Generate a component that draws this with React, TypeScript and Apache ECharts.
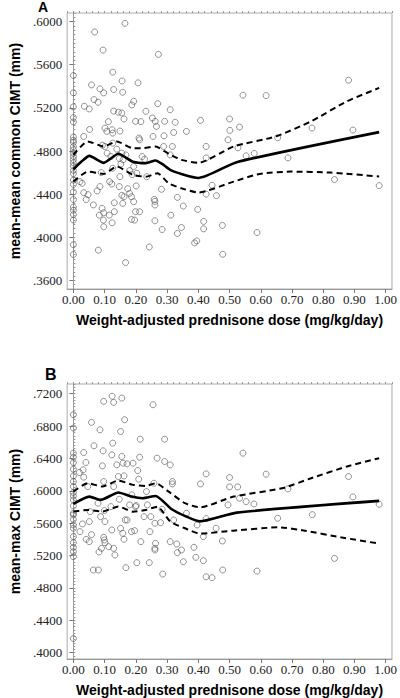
import React, { useEffect, useRef } from "react";
import * as echarts from "echarts";

const X_TICKS = [0, 0.1, 0.2, 0.3, 0.4, 0.5, 0.6, 0.7, 0.8, 0.9, 1.0];
const A_Y_TICKS = [0.36, 0.4, 0.44, 0.48, 0.52, 0.56, 0.6];
const B_Y_TICKS = [0.4, 0.44, 0.48, 0.52, 0.56, 0.6, 0.64, 0.68, 0.72];

const X_NAME = "Weight-adjusted prednisone dose (mg/kg/day)";
const A_Y_NAME = "mean-mean common CIMT (mm)";
const B_Y_NAME = "mean-max CIMT (mm)";

// Panel A: patients with zero dose
const A_ZERO_Y = [0.550, 0.534, 0.521, 0.511, 0.507, 0.493, 0.490, 0.488, 0.484, 0.481, 0.478, 0.475, 0.472, 0.469, 0.466, 0.462, 0.459, 0.453, 0.449, 0.442, 0.435, 0.428, 0.425, 0.421, 0.416, 0.393, 0.384];
const A_POINTS: number[][] = [
  [0.033, 0.4935], [0.021, 0.4516], [0.028, 0.450], [0.035, 0.5215], [0.051, 0.519], [0.052, 0.500],
  [0.033, 0.4413], [0.041, 0.435], [0.047, 0.4395], [0.058, 0.5413], [0.066, 0.5277], [0.079, 0.5252],
  [0.068, 0.5904], [0.085, 0.5376], [0.097, 0.5339], [0.095, 0.5736], [0.080, 0.388], [0.064, 0.430],
  [0.076, 0.443], [0.085, 0.447], [0.089, 0.460], [0.083, 0.4205], [0.092, 0.4268], [0.096, 0.4159],
  [0.097, 0.4097], [0.097, 0.4227], [0.093, 0.4854], [0.101, 0.4842], [0.101, 0.5013], [0.107, 0.4982],
  [0.112, 0.5072], [0.126, 0.5531], [0.129, 0.537], [0.124, 0.4997], [0.126, 0.4966], [0.126, 0.4873],
  [0.108, 0.478], [0.120, 0.4749], [0.126, 0.464], [0.123, 0.4494], [0.116, 0.4516], [0.131, 0.432],
  [0.131, 0.4237], [0.115, 0.4205], [0.124, 0.4134], [0.129, 0.517], [0.144, 0.5159], [0.155, 0.5153],
  [0.158, 0.5345], [0.156, 0.545], [0.162, 0.5097], [0.149, 0.4985], [0.139, 0.4817], [0.147, 0.473],
  [0.155, 0.478], [0.159, 0.4718], [0.168, 0.4764], [0.152, 0.468], [0.149, 0.4562], [0.147, 0.447],
  [0.155, 0.4389], [0.162, 0.4376], [0.158, 0.4314], [0.174, 0.445], [0.180, 0.4407], [0.180, 0.4618],
  [0.188, 0.4581], [0.193, 0.4656], [0.186, 0.4376], [0.193, 0.433], [0.186, 0.4165], [0.196, 0.4159],
  [0.199, 0.4237], [0.212, 0.4237], [0.165, 0.5984], [0.167, 0.3765], [0.187, 0.5227], [0.193, 0.5261],
  [0.199, 0.5075], [0.207, 0.5432], [0.216, 0.5072], [0.210, 0.4920], [0.212, 0.4904], [0.201, 0.4476],
  [0.203, 0.4594], [0.220, 0.4749], [0.228, 0.4724], [0.232, 0.5168], [0.235, 0.4562], [0.253, 0.5106],
  [0.255, 0.4935], [0.243, 0.391], [0.262, 0.5075], [0.266, 0.5028], [0.270, 0.5239], [0.272, 0.5696],
  [0.259, 0.4351], [0.261, 0.4333], [0.261, 0.4299], [0.261, 0.4153], [0.282, 0.4445], [0.284, 0.4072],
  [0.292, 0.5075], [0.290, 0.4941], [0.289, 0.4842], [0.310, 0.5183], [0.317, 0.4842], [0.321, 0.4972],
  [0.326, 0.5066], [0.310, 0.4764], [0.312, 0.4205], [0.333, 0.437], [0.333, 0.4035], [0.346, 0.409],
  [0.352, 0.4289], [0.362, 0.4982], [0.398, 0.4258], [0.388, 0.3948], [0.395, 0.3966], [0.407, 0.5084],
  [0.425, 0.4842], [0.425, 0.4736], [0.425, 0.440], [0.417, 0.4147], [0.417, 0.4078], [0.444, 0.4482],
  [0.458, 0.4386], [0.477, 0.411], [0.478, 0.3842], [0.495, 0.4904], [0.500, 0.5097], [0.501, 0.4991],
  [0.527, 0.483], [0.532, 0.5022], [0.543, 0.5317], [0.553, 0.4755], [0.579, 0.4777], [0.588, 0.4044],
  [0.617, 0.5314], [0.654, 0.4923], [0.687, 0.4736], [0.764, 0.5013], [0.836, 0.4535], [0.881, 0.5457],
  [0.895, 0.4994], [0.979, 0.4479],
];
const A_FIT: number[][] = [[0, 0.463], [0.025, 0.470], [0.051, 0.4755], [0.097, 0.469], [0.144, 0.4774], [0.191, 0.470], [0.232, 0.4687], [0.263, 0.4712], [0.284, 0.468], [0.310, 0.4625], [0.346, 0.4587], [0.400, 0.4550], [0.523, 0.4696], [0.979, 0.4975]];
const A_UPPER: number[][] = [[0, 0.4764], [0.046, 0.4889], [0.097, 0.4842], [0.139, 0.4889], [0.191, 0.4826], [0.222, 0.4826], [0.263, 0.4842], [0.305, 0.4774], [0.346, 0.4718], [0.400, 0.4690], [0.513, 0.4842], [0.648, 0.4935], [0.761, 0.5075], [0.876, 0.5261], [0.979, 0.5385]];
const A_LOWER: number[][] = [[0, 0.4516], [0.046, 0.4609], [0.097, 0.4587], [0.139, 0.4656], [0.191, 0.4578], [0.232, 0.4562], [0.269, 0.4594], [0.305, 0.4500], [0.346, 0.4454], [0.400, 0.4415], [0.513, 0.4516], [0.596, 0.4587], [0.699, 0.4609], [0.824, 0.4600], [0.979, 0.4563]];

// Panel B
const B_ZERO_Y = [0.694, 0.6775, 0.6465, 0.6415, 0.635, 0.6267, 0.6184, 0.6114, 0.6052, 0.5978, 0.5936, 0.5887, 0.5813, 0.5722, 0.5701, 0.5647, 0.5577, 0.5536, 0.5433, 0.5358, 0.5301, 0.5247, 0.5185, 0.4173];
const B_POINTS: number[][] = [
  [0.019, 0.6226], [0.033, 0.6473], [0.031, 0.6259], [0.033, 0.6168], [0.021, 0.5495], [0.029, 0.559],
  [0.041, 0.54], [0.051, 0.5371], [0.058, 0.5458], [0.058, 0.6845], [0.040, 0.635], [0.046, 0.6052],
  [0.054, 0.5742], [0.051, 0.5619], [0.064, 0.502], [0.080, 0.502], [0.066, 0.6556], [0.085, 0.6754],
  [0.079, 0.5846], [0.087, 0.568], [0.082, 0.5243], [0.090, 0.5288], [0.095, 0.6494], [0.093, 0.6308],
  [0.097, 0.6114], [0.097, 0.7105], [0.099, 0.5755], [0.101, 0.5619], [0.097, 0.5425], [0.099, 0.5392],
  [0.101, 0.5358], [0.113, 0.5309], [0.124, 0.7169], [0.129, 0.7092], [0.126, 0.6589], [0.123, 0.6444],
  [0.129, 0.6052], [0.120, 0.5804], [0.123, 0.5515], [0.129, 0.5288], [0.133, 0.5206], [0.139, 0.632],
  [0.144, 0.6176], [0.147, 0.5895], [0.151, 0.6733], [0.155, 0.7146], [0.164, 0.6878], [0.155, 0.6424],
  [0.159, 0.6341], [0.162, 0.6184], [0.151, 0.5536], [0.158, 0.5474], [0.162, 0.54], [0.166, 0.5639],
  [0.168, 0.5049], [0.172, 0.6333], [0.172, 0.5639], [0.180, 0.5825], [0.187, 0.5949], [0.186, 0.5495],
  [0.191, 0.6341], [0.196, 0.5507], [0.201, 0.5817], [0.203, 0.5111], [0.199, 0.5804], [0.206, 0.625],
  [0.212, 0.6415], [0.209, 0.6143], [0.214, 0.6638], [0.216, 0.5371], [0.226, 0.568], [0.234, 0.599],
  [0.237, 0.5825], [0.243, 0.5111], [0.245, 0.5495], [0.248, 0.568], [0.255, 0.7064], [0.258, 0.6093],
  [0.261, 0.5598], [0.263, 0.535], [0.261, 0.5288], [0.261, 0.5268], [0.268, 0.6403], [0.279, 0.5606],
  [0.284, 0.5771], [0.286, 0.497], [0.292, 0.6638], [0.292, 0.6362], [0.310, 0.632], [0.310, 0.5371],
  [0.317, 0.6114], [0.317, 0.6085], [0.321, 0.5639], [0.331, 0.5342], [0.333, 0.5235], [0.346, 0.5268],
  [0.352, 0.5123], [0.362, 0.5722], [0.386, 0.5301], [0.392, 0.5177], [0.396, 0.5577], [0.407, 0.6085],
  [0.425, 0.6209], [0.425, 0.5656], [0.416, 0.5433], [0.416, 0.5136], [0.425, 0.4937], [0.444, 0.4925],
  [0.457, 0.5536], [0.477, 0.5379], [0.478, 0.502], [0.495, 0.5825], [0.500, 0.6164], [0.500, 0.6048],
  [0.526, 0.6048], [0.532, 0.5908], [0.543, 0.6465], [0.553, 0.5866], [0.578, 0.5837], [0.588, 0.5007],
  [0.617, 0.6205], [0.654, 0.566], [0.687, 0.6023], [0.765, 0.5705], [0.836, 0.5164], [0.881, 0.6176],
  [0.895, 0.5924], [0.979, 0.5833],
];
const B_FIT: number[][] = [[0, 0.5837], [0.051, 0.5928], [0.087, 0.5887], [0.144, 0.5978], [0.186, 0.5928], [0.222, 0.5908], [0.263, 0.5936], [0.315, 0.5771], [0.362, 0.568], [0.405, 0.5622], [0.523, 0.573], [0.979, 0.5875]];
const B_UPPER: number[][] = [[0, 0.599], [0.046, 0.6093], [0.092, 0.6052], [0.144, 0.6126], [0.191, 0.6073], [0.232, 0.606], [0.263, 0.6093], [0.305, 0.599], [0.357, 0.5846], [0.405, 0.5795], [0.513, 0.5928], [0.668, 0.6031], [0.761, 0.6155], [0.876, 0.63], [0.979, 0.6403]];
const B_LOWER: number[][] = [[0, 0.5742], [0.046, 0.5763], [0.092, 0.5742], [0.144, 0.5804], [0.191, 0.5742], [0.232, 0.5763], [0.269, 0.5804], [0.310, 0.5619], [0.357, 0.5536], [0.405, 0.547], [0.513, 0.5507], [0.658, 0.5548], [0.741, 0.5507], [0.855, 0.5425], [0.974, 0.535]];

const SERIF = "Liberation Serif, Times New Roman, serif";
const SANS = "Liberation Sans, Arial, sans-serif";

export default function App() {
  const ref = useRef<HTMLDivElement>(null);

  useEffect(() => {
    if (!ref.current) return;
    const chart = echarts.init(ref.current, undefined, { renderer: "svg" });

    const grids = [
      { left: 62, top: 13, width: 333, height: 276 },
      { left: 62, top: 384, width: 333, height: 276 },
    ];
    const yCfg = [
      { min: 0.352, max: 0.608, ticks: A_Y_TICKS, name: A_Y_NAME },
      { min: 0.392, max: 0.732, ticks: B_Y_TICKS, name: B_Y_NAME },
    ];

    const xAxis: any[] = [];
    const yAxis: any[] = [];
    grids.forEach((_, g) => {
      xAxis.push({
        type: "value",
        gridIndex: g,
        min: -0.02,
        max: 1.02,
        name: X_NAME,
        nameLocation: "middle",
        nameGap: 24,
        nameTextStyle: { fontFamily: SANS, fontWeight: "bold", fontSize: 14, color: "#000" },
        axisLine: { show: true, lineStyle: { color: "#999", width: 1 } },
        axisTick: { show: true, customValues: X_TICKS, length: 4, lineStyle: { color: "#777" } },
        axisLabel: {
          customValues: X_TICKS,
          formatter: (v: number) => v.toFixed(2),
          fontFamily: SERIF,
          fontSize: 13,
          color: "#222",
          margin: 4,
        },
        splitLine: { show: false },
      });
      xAxis.push({
        type: "value",
        gridIndex: g,
        min: -0.02,
        max: 1.02,
        interval: 0.02,
        axisLine: { show: false },
        axisTick: { show: true, length: 2, lineStyle: { color: "#999" } },
        axisLabel: { show: false },
        splitLine: { show: false },
      });
      const c = yCfg[g];
      yAxis.push({
        type: "value",
        gridIndex: g,
        min: c.min,
        max: c.max,
        name: c.name,
        nameLocation: "middle",
        nameGap: 40,
        nameTextStyle: { fontFamily: SANS, fontWeight: "bold", fontSize: 14, color: "#000" },
        axisLine: { show: true, lineStyle: { color: "#999", width: 1 } },
        axisTick: { show: true, customValues: c.ticks, length: 4, lineStyle: { color: "#777" } },
        axisLabel: {
          customValues: c.ticks,
          formatter: (v: number) => v.toFixed(4).replace(/^0/, ""),
          fontFamily: SERIF,
          fontSize: 13,
          color: "#222",
          margin: 5,
        },
        splitLine: { show: false },
      });
      yAxis.push({
        type: "value",
        gridIndex: g,
        min: c.min,
        max: c.max,
        interval: 0.004,
        axisLine: { show: false },
        axisTick: { show: true, length: 2, lineStyle: { color: "#999" } },
        axisLabel: { show: false },
        splitLine: { show: false },
      });
    });

    const scatterStyle = {
      symbol: "circle",
      symbolSize: 6,
      itemStyle: { color: "rgba(0,0,0,0)", borderColor: "#555", borderWidth: 0.8 },
      z: 2,
    };
    const lineBase = { type: "line", showSymbol: false, smooth: 0.2, z: 3 };

    const panel = (g: number, zeroY: number[], pts: number[][], fit: number[][], up: number[][], lo: number[][]) => {
      const xi = g * 2;
      const yi = g * 2;
      const allPts = zeroY.map((y) => [0, y]).concat(pts);
      return [
        { type: "scatter", xAxisIndex: xi, yAxisIndex: yi, data: allPts, ...scatterStyle },
        { ...lineBase, xAxisIndex: xi, yAxisIndex: yi, data: fit, lineStyle: { color: "#000", width: 2.6 } },
        { ...lineBase, xAxisIndex: xi, yAxisIndex: yi, data: up, lineStyle: { color: "#000", width: 2, type: [6, 4] } },
        { ...lineBase, xAxisIndex: xi, yAxisIndex: yi, data: lo, lineStyle: { color: "#000", width: 2, type: [6, 4] } },
      ];
    };

    chart.setOption({
      animation: false,
      backgroundColor: "#fff",
      grid: grids.map((g) => ({ ...g, show: true, borderColor: "#aaa", borderWidth: 1, backgroundColor: "transparent" })),
      xAxis,
      yAxis,
      series: [
        ...panel(0, A_ZERO_Y, A_POINTS, A_FIT, A_UPPER, A_LOWER),
        ...panel(1, B_ZERO_Y, B_POINTS, B_FIT, B_UPPER, B_LOWER),
      ],
      graphic: [
        { type: "text", left: 38, top: 0, style: { text: "A", fontFamily: SANS, fontWeight: "bold", fontSize: 14, lineHeight: 14, fill: "#000" } },
        { type: "text", left: 45, top: 366, style: { text: "B", fontFamily: SANS, fontWeight: "bold", fontSize: 16, fill: "#000" } },
      ],
    });

    return () => chart.dispose();
  }, []);

  return (
    <div
      ref={ref}
      style={{ position: "absolute", left: 0, top: 0, width: 400, height: 698 }}
    />
  );
}
